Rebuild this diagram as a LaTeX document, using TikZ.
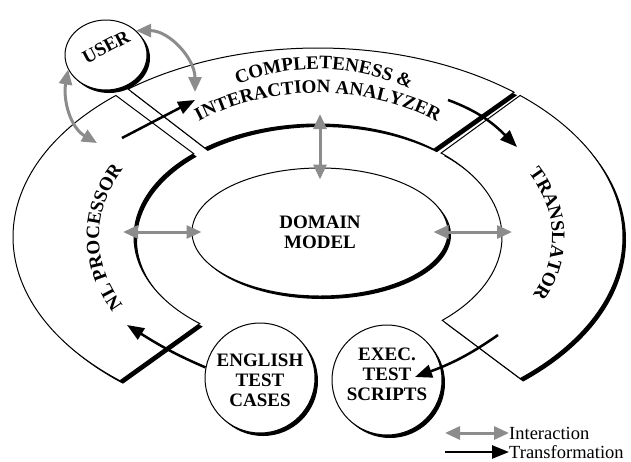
\documentclass[tikz,border=0pt]{standalone}
\usepackage{fontspec}
\setmainfont{Liberation Serif}
\usetikzlibrary{arrows.meta,shapes.geometric,decorations.text,calc}

\definecolor{ixgrey}{gray}{0.55}
\newcommand{\lblfont}{\fontsize{19}{20}\selectfont\bfseries}
\newcommand{\keyfont}{\fontsize{18.5}{20}\selectfont}

\tikzset{
  shadowed/.style={draw=black, line width=1pt, fill=white,
    preaction={fill=black, draw=none, transform canvas={shift={(3pt,-3pt)}}}},
  bubble/.style={circle, shadowed, minimum size=110pt, inner sep=0pt},
  lbl/.style={font=\lblfont, align=center, inner sep=0pt},
  interarrow/.style={draw=ixgrey, line width=3pt,
    arrows={Triangle[length=15pt,width=13pt]-Triangle[length=15pt,width=13pt]}},
  transarrow/.style={draw=black, line width=2.5pt,
    arrows={-Triangle[length=17pt,width=13pt]}},
  ringtext/.style={decorate, decoration={text along path, text align=center,
    text={|\lblfont|#1}}}
}

\begin{document}
\begin{tikzpicture}[x=1pt,y=1pt]
\useasboundingbox (0,0) rectangle (631,-461);
\coordinate (O) at (318,-237);

% the three parts of the ring
\path[shadowed] ($(O)+(131.5:305 and 189)$) arc[start angle=131.5,end angle=229.5,x radius=305,y radius=189]
  -- ($(O)+(230:184 and 113)$) arc[start angle=230,end angle=132.5,x radius=184,y radius=113] -- cycle;
\path[shadowed] ($(O)+(128.5:305 and 189)$) arc[start angle=128.5,end angle=50,x radius=305,y radius=189]
  -- ($(O)+(51:184 and 113)$) arc[start angle=51,end angle=128,x radius=184,y radius=113] -- cycle;
\path[shadowed] ($(O)+(48.5:305 and 189)$) arc[start angle=48.5,end angle=-48.5,x radius=305,y radius=189]
  -- ($(O)+(-47.5:184 and 113)$) arc[start angle=-47.5,end angle=48,x radius=184,y radius=113] -- cycle;

\path[ringtext={COMPLETENESS {\&}}] ($(O)+(148:192 and 168)$) arc[start angle=148,end angle=28,x radius=192,y radius=168];
\path[ringtext={INTERACTION ANALYZER}] ($(O)+(160:200 and 144)$) arc[start angle=160,end angle=20,x radius=200,y radius=144];
\path[ringtext={NL PROCESSOR}] ($(O)+(235:219 and 150)$) arc[start angle=235,end angle=125,x radius=219,y radius=150];
\path[ringtext={TRANSLATOR}] ($(O)+(55:234 and 147)$) arc[start angle=55,end angle=-53,x radius=234,y radius=147];

\node[ellipse, shadowed, minimum width=256pt, minimum height=128pt, font=\lblfont, align=center, inner sep=0pt] (domain) at (320,-232) {DOMAIN\\MODEL};

\node[ellipse, shadowed, minimum width=82pt, minimum height=70pt, inner sep=0pt] (user) at (106,-55) {};
\node[lbl, rotate=28] (userlbl) at (106,-47) {USER};
\node[bubble] (english) at (260,-378) {};
\node[lbl] (englishlbl) at (260,-380) {ENGLISH\\TEST\\CASES};
\node[bubble] (exec) at (387,-380) {};
\node[lbl] (execlbl) at (387,-374) {EXEC.\\TEST\\SCRIPTS};

\coordinate (ciaU) at (195,-92);
\coordinate (nlpU) at (97,-143);
\coordinate (ciaD) at (320,-114);
\coordinate (nlpD) at (123,-232);
\coordinate (trnD) at (512,-232);
\coordinate (nlpT) at (122,-138);
\coordinate (ciaT) at (195,-100);
\coordinate (ciaS) at (448,-100);
\coordinate (trnT) at (517,-147);
\coordinate (nlpE) at (127,-325);
\coordinate (trnS) at (498,-335);
\coordinate (execT) at (415,-377);

\draw[interarrow] (user.39) to[out=0,in=90] (ciaU);
\draw[interarrow] (user.201) to[out=-100,in=150] (nlpU);
\draw[interarrow, shorten >=-12pt] (ciaD) -- (domain.north);
\draw[interarrow, shorten >=-10pt] (nlpD) -- (domain.west);
\draw[interarrow, shorten <=-15pt] (domain.east) -- (trnD);

\draw[transarrow] (nlpT) -- (ciaT);
\draw[transarrow] (ciaS) to[out=-20,in=135] (trnT);
\draw[transarrow] (english.169) to[out=157,in=-32] (nlpE);
\draw[transarrow] (trnS) to[out=215,in=20] (execT);

% key
\node[anchor=west, font=\keyfont, inner sep=0pt] (keyint) at (509,-433) {Interaction};
\node[anchor=west, font=\keyfont, inner sep=0pt] (keytrn) at (509,-452) {Transformation};
\coordinate (keyintS) at (445,-433);
\coordinate (keytrnS) at (445,-452);
\draw[interarrow] (keyintS) -- (keyint.west);
\draw[transarrow] (keytrnS) -- (keytrn.west);
\end{tikzpicture}
\end{document}
